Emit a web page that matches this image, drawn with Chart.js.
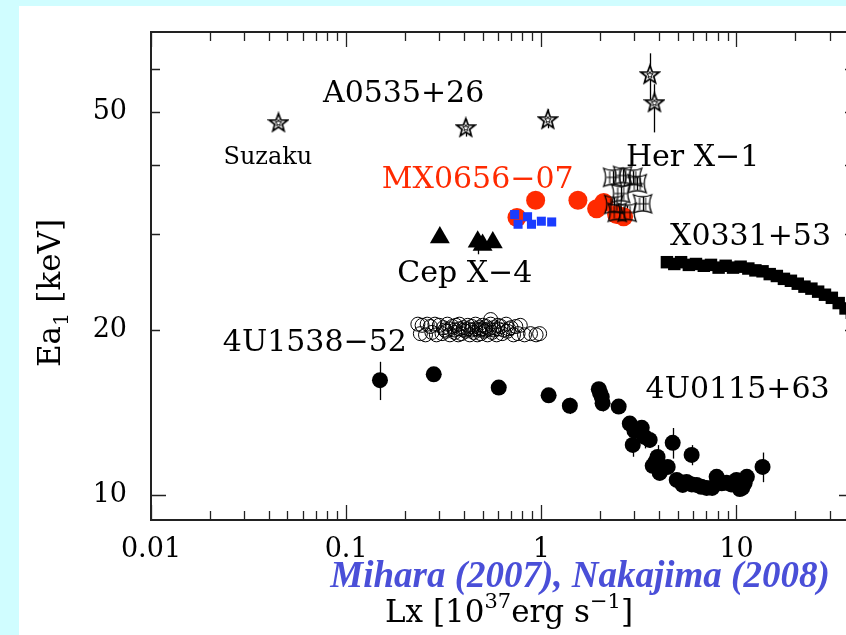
<!DOCTYPE html>
<html>
<head>
<meta charset="utf-8">
<script src="https://cdn.jsdelivr.net/npm/chart.js@4/dist/chart.umd.min.js"></script>
<style>
  html, body { margin: 0; padding: 0; width: 846px; height: 635px; overflow: hidden; background: #d0fdff; }
  #panel { position: absolute; left: 19px; top: 6px; right: 0; bottom: 0; background: #ffffff; }
  #box { position: absolute; left: 0; top: 0; width: 880px; height: 635px; }
</style>
</head>
<body>
<div id="panel"></div>
<div id="box"><canvas id="c" width="880" height="635"></canvas></div>
<script>
// Cyclotron resonance energy Ea1 [keV] versus X-ray luminosity Lx [1e37 erg/s]

// A0535+26 (Suzaku point first)
const a0535Lx = [0.045, 0.41, 1.08, 3.6, 3.8];
const a0535E  = [47.9, 46.9, 48.5, 58.6, 52.1];
const a0535Lo = [47.9, 45.1, 46.7, 52.7, 45.9];
const a0535Hi = [47.9, 48.5, 50.6, 64.0, 56.2];

// MX0656-07
const mxLx = [0.75, 0.935, 1.54, 1.92, 2.09, 2.43, 2.64];
const mxE  = [32.1, 34.5, 34.5, 33.3, 34.2, 32.5, 32.2];
const mxBlueLx = [0.73, 0.76, 0.85, 0.89, 1.0, 1.13];
const mxBlueE  = [32.5, 31.2, 32.2, 31.2, 31.6, 31.5];

// Her X-1
const herLx = [2.32, 2.61, 2.94, 3.1, 2.35, 2.45, 2.75, 3.3, 2.55];
const herE  = [38.0, 38.3, 38.0, 37.0, 33.9, 32.8, 32.8, 34.0, 35.5];
const herErrE = [1.0, 1.0, 1.0, 1.0, 1.0, 0.9, 0.9, 1.0, 1.0];

// Cep X-4
const cepLx = [0.302, 0.472, 0.50, 0.564];
const cepE  = [29.5, 29.0, 28.6, 28.9];
const cepErr = [0, 1.5, 0, 0];

// X0331+53
const x0331Lx = [4.4, 4.8, 5.2, 5.7, 6.2, 6.8, 7.4, 8.1, 8.8, 9.6, 10.5, 11.5, 12.5, 13.6,
                 14.8, 16.1, 17.5, 19.0, 20.6, 22.3, 24.2, 26.2, 28.4, 30.8, 33.4, 36.2, 39.0];
const x0331E  = [26.6, 26.4, 26.6, 26.3, 26.4, 26.2, 26.3, 26.0, 26.2, 26.0, 26.1, 25.9, 25.7, 25.6,
                 25.3, 25.1, 24.8, 24.6, 24.3, 24.0, 23.8, 23.5, 23.2, 22.9, 22.4, 21.9, 21.5];

// 4U1538-52
const u1538Lx = [0.233, 0.245, 0.26, 0.27, 0.285, 0.30, 0.315, 0.33, 0.35, 0.365, 0.38, 0.40, 0.42,
                 0.44, 0.46, 0.48, 0.50, 0.52, 0.55, 0.57, 0.60, 0.62, 0.66, 0.70, 0.74, 0.78,
                 0.24, 0.255, 0.275, 0.29, 0.31, 0.325, 0.34, 0.36, 0.375, 0.39, 0.41, 0.43, 0.45,
                 0.47, 0.49, 0.51, 0.53, 0.56, 0.59, 0.63, 0.67, 0.72, 0.76, 0.82, 0.88, 0.94, 0.98, 0.55,
                 0.32, 0.34, 0.36, 0.38, 0.40, 0.42, 0.44, 0.46, 0.48, 0.50, 0.52, 0.54, 0.57, 0.60, 0.64, 0.68];
const u1538E  = [20.5, 20.4, 20.5, 20.3, 20.5, 20.4, 20.2, 20.5, 20.3, 20.4, 20.5, 20.2, 20.4,
                 20.3, 20.5, 20.2, 20.4, 20.3, 20.5, 20.2, 20.4, 20.3, 20.5, 20.2, 20.3, 20.4,
                 19.7, 19.6, 19.8, 19.6, 19.7, 19.9, 19.6, 19.8, 19.6, 19.7, 19.9, 19.6, 19.8,
                 19.6, 19.7, 19.9, 19.6, 19.8, 19.6, 19.7, 19.9, 19.6, 19.7, 19.6, 19.7, 19.6, 19.7, 20.9,
                 20.0, 20.1, 20.0, 20.1, 20.0, 20.1, 20.0, 20.1, 20.0, 20.1, 20.0, 20.1, 20.0, 20.1, 20.0, 20.1];

// 4U0115+63
const u0115Lx = [0.149, 0.281, 0.605, 1.09, 1.40, 1.97, 2.00, 2.04, 2.06, 2.49, 2.84, 3.0, 3.27, 3.38,
                 2.94, 3.59, 4.71, 5.89, 3.94, 3.72, 3.85, 4.04, 4.44, 4.94, 5.30, 5.55, 5.9, 6.25,
                 6.6, 7.03, 7.5, 7.91, 8.4, 8.90, 9.4, 10.0, 10.4, 10.7, 11.0, 11.3, 13.6];
const u0115E  = [16.2, 16.6, 15.7, 15.2, 14.55, 15.6, 15.35, 15.1, 14.7, 14.5, 13.5, 13.1, 13.26, 12.76,
                 12.34, 12.6, 12.45, 11.83, 11.73, 11.3, 11.5, 10.97, 11.25, 10.65, 10.43, 10.56, 10.45, 10.43,
                 10.35, 10.3, 10.3, 10.79, 10.5, 10.52, 10.45, 10.65, 10.25, 10.3, 10.5, 10.79, 11.25];
const u0115Err = [1.3, 0.5, 0, 0, 0.5, 0, 0.3, 0.3, 0.5, 0.3, 0.4, 0.4, 0.4, 0.6,
                  0.6, 0.4, 0.8, 0.5, 0.6, 0.4, 0.4, 0.3, 0.3, 0.2, 0.2, 0.2, 0.2, 0.2,
                  0.2, 0.2, 0.2, 0.3, 0.2, 0.3, 0.2, 0.3, 0.2, 0.2, 0.2, 0.3, 0.7];

// Axis ticks
const xTickValues = [0.01, 0.02, 0.03, 0.04, 0.05, 0.06, 0.07, 0.08, 0.09,
                     0.1, 0.2, 0.3, 0.4, 0.5, 0.6, 0.7, 0.8, 0.9,
                     1, 2, 3, 4, 5, 6, 7, 8, 9, 10, 20, 30, 40];
const xMajor = [0.01, 0.1, 1, 10];
const xMajorLabels = ['0.01', '0.1', '1', '10'];
const yTickValues = [10, 20, 30, 40, 50, 60];
const yMajor = [10];
const yLabelled = [10, 20, 50];
const yLabels = ['10', '20', '50'];

// Source names and where they sit (data coordinates)
const sourceNames = ['A0535+26', 'Suzaku', 'MX0656\u221207', 'Her X\u22121', 'X0331+53', 'Cep X\u22124', '4U1538\u221252', '4U0115+63'];
const sourceColors = ['#000', '#000', '#ff2a00', '#000', '#000', '#000', '#000', '#000'];
const labelPos = [
  [0.197, 53.8], [0.0397, 41.3], [0.472, 37.5], [5.96, 41.1],
  [11.8, 29.6], [0.405, 25.25], [0.0691, 18.96], [10.13, 15.56]
];
const labelSize = [30, 24, 30, 30, 30, 30, 30, 30];

const SERIF = '"DejaVu Serif", serif';

function pts(xs, ys) { return xs.map((v, i) => ({ x: v, y: ys[i] })); }

function makeStar() {
  const c = document.createElement('canvas');
  c.width = 22; c.height = 22;
  const g = c.getContext('2d');
  function star(R, r) {
    g.beginPath();
    for (let i = 0; i < 10; i++) {
      const rad = i % 2 ? r : R;
      const ang = -Math.PI / 2 + i * Math.PI / 5;
      g.lineTo(11 + rad * Math.cos(ang), 11.8 + rad * Math.sin(ang));
    }
    g.closePath();
  }
  star(9.5, 4.0);
  g.fillStyle = '#fff'; g.fill();
  g.strokeStyle = '#000'; g.lineWidth = 1.7; g.stroke();
  star(3.4, 1.5);
  g.lineWidth = 1.0; g.stroke();
  return c;
}

function makeConcaveSquare() {
  const s = 22;
  const c = document.createElement('canvas');
  c.width = s; c.height = s;
  const g = c.getContext('2d');
  const m = 2, e = s - 2, k = 4;
  g.beginPath();
  g.moveTo(m, m);
  g.quadraticCurveTo(s / 2, m + k, e, m);
  g.quadraticCurveTo(e - k, s / 2, e, e);
  g.quadraticCurveTo(s / 2, e - k, m, e);
  g.quadraticCurveTo(m + k, s / 2, m, m);
  g.closePath();
  g.strokeStyle = '#000'; g.lineWidth = 1.3; g.stroke();
  // inner cross lines
  g.beginPath();
  g.moveTo(s / 2 - 3, m + 3); g.lineTo(s / 2 - 3, e - 3);
  g.moveTo(s / 2 + 3, m + 3); g.lineTo(s / 2 + 3, e - 3);
  g.moveTo(m + 3, s / 2); g.lineTo(e - 3, s / 2);
  g.lineWidth = 1; g.stroke();
  return c;
}

const starImg = makeStar();
const herImg = makeConcaveSquare();

// Frame with inward ticks on all four sides
const framePlugin = {
  id: 'frame',
  beforeDatasetsDraw(chart) {
    const { ctx, chartArea: a, scales: { x, y } } = chart;
    ctx.save();
    ctx.strokeStyle = '#222';
    ctx.lineWidth = 2;
    ctx.strokeRect(a.left, a.top, a.right - a.left, a.bottom - a.top);
    ctx.lineWidth = 1.3;
    ctx.beginPath();
    xTickValues.forEach(v => {
      const px = Math.round(x.getPixelForValue(v)) + 0.5;
      const L = xMajor.includes(v) ? 15 : 9;
      ctx.moveTo(px, a.bottom); ctx.lineTo(px, a.bottom - L);
      ctx.moveTo(px, a.top); ctx.lineTo(px, a.top + L);
    });
    yTickValues.forEach(v => {
      const py = Math.round(y.getPixelForValue(v)) + 0.5;
      const L = yMajor.includes(v) ? 15 : 9;
      ctx.moveTo(a.left, py); ctx.lineTo(a.left + L, py);
      ctx.moveTo(a.right, py); ctx.lineTo(a.right - L, py);
    });
    ctx.stroke();
    ctx.restore();
  }
};

// Vertical error bars taken from each dataset's errLo / errHi arrays
const errorBarPlugin = {
  id: 'errbars',
  beforeDatasetsDraw(chart) {
    const { ctx, scales: { x, y } } = chart;
    ctx.save();
    ctx.strokeStyle = '#000';
    ctx.lineWidth = 1.3;
    chart.data.datasets.forEach(ds => {
      if (!ds.errLo) return;
      ds.data.forEach((p, i) => {
        const lo = ds.errLo[i], hi = ds.errHi[i];
        if (lo === hi) return;
        const px = Math.round(x.getPixelForValue(p.x)) + 0.5;
        ctx.beginPath();
        ctx.moveTo(px, y.getPixelForValue(lo));
        ctx.lineTo(px, y.getPixelForValue(hi));
        ctx.stroke();
      });
    });
    ctx.restore();
  }
};

const textPlugin = {
  id: 'texts',
  afterDatasetsDraw(chart) {
    const { ctx, scales: { x, y } } = chart;
    ctx.save();
    ctx.textAlign = 'center';
    ctx.textBaseline = 'middle';
    sourceNames.forEach((t, i) => {
      ctx.font = labelSize[i] + 'px ' + SERIF;
      ctx.fillStyle = sourceColors[i];
      ctx.fillText(t, x.getPixelForValue(labelPos[i][0]), y.getPixelForValue(labelPos[i][1]));
    });
    ctx.restore();
  },
  afterDraw(chart) {
    const ctx = chart.ctx;
    function rich(parts, cx, base) {
      let total = 0;
      parts.forEach(p => { ctx.font = p.s + 'px ' + SERIF; p.w = ctx.measureText(p.t).width; total += p.w; });
      let px = cx - total / 2;
      parts.forEach(p => { ctx.font = p.s + 'px ' + SERIF; ctx.fillText(p.t, px, base + p.dy); px += p.w; });
    }
    ctx.save();
    ctx.fillStyle = '#000';
    ctx.textBaseline = 'alphabetic';
    ctx.textAlign = 'left';
    rich([
      { t: 'Lx [10', s: 31, dy: 0 },
      { t: '37', s: 21, dy: -14 },
      { t: 'erg s', s: 31, dy: 0 },
      { t: '\u22121', s: 21, dy: -14 },
      { t: ']', s: 31, dy: 0 }
    ], 509, 622);
    ctx.save();
    ctx.translate(60, 293);
    ctx.rotate(-Math.PI / 2);
    rich([
      { t: 'Ea', s: 31, dy: 0 },
      { t: '1', s: 21, dy: 8 },
      { t: ' [keV]', s: 31, dy: 0 }
    ], 0, 0);
    ctx.restore();
    ctx.font = 'italic bold 37px "Liberation Serif", serif';
    ctx.fillStyle = '#4a4fd8';
    ctx.textAlign = 'center';
    ctx.textBaseline = 'middle';
    ctx.fillText('Mihara (2007), Nakajima (2008)', 580, 577);
    ctx.restore();
  }
};

new Chart(document.getElementById('c'), {
  type: 'scatter',
  data: {
    datasets: [
      { label: 'A0535+26', data: pts(a0535Lx, a0535E), errLo: a0535Lo, errHi: a0535Hi,
        pointStyle: starImg, order: 0 },
      { label: 'Her X-1', data: pts(herLx, herE),
        errLo: herE.map((v, i) => v - herErrE[i]), errHi: herE.map((v, i) => v + herErrE[i]),
        pointStyle: herImg, order: 1 },
      { label: 'MX0656-07 blue', data: pts(mxBlueLx, mxBlueE), pointStyle: 'rect', pointRadius: 6.4,
        backgroundColor: '#1a3cff', borderColor: '#1a3cff', borderWidth: 0, order: 2 },
      { label: 'MX0656-07', data: pts(mxLx, mxE), pointStyle: 'circle', pointRadius: 9.5,
        backgroundColor: '#ff2a00', borderColor: '#ff2a00', borderWidth: 0, order: 3 },
      { label: 'Cep X-4', data: pts(cepLx, cepE),
        errLo: cepE.map((v, i) => v - cepErr[i]), errHi: cepE.map((v, i) => v + cepErr[i] * 0.3),
        pointStyle: 'triangle', pointRadius: 11.5, backgroundColor: '#000', borderColor: '#000', borderWidth: 0, order: 4 },
      { label: 'X0331+53', data: pts(x0331Lx, x0331E), pointStyle: 'rect', pointRadius: 8.8,
        backgroundColor: '#000', borderColor: '#000', borderWidth: 0, order: 5 },
      { label: '4U0115+63', data: pts(u0115Lx, u0115E),
        errLo: u0115E.map((v, i) => v - u0115Err[i]), errHi: u0115E.map((v, i) => v + u0115Err[i]),
        pointStyle: 'circle', pointRadius: 8, backgroundColor: '#000', borderColor: '#000', borderWidth: 0, order: 6 },
      { label: '4U1538-52', data: pts(u1538Lx, u1538E), pointStyle: 'circle', pointRadius: 7,
        backgroundColor: 'rgba(0,0,0,0)', borderColor: '#000', borderWidth: 1, order: 7 }
    ]
  },
  options: {
    responsive: false,
    animation: false,
    events: [],
    layout: { padding: { left: 0, top: 32, right: 26, bottom: 0 } },
    plugins: { legend: { display: false }, tooltip: { enabled: false } },
    scales: {
      x: {
        type: 'logarithmic', min: 0.01, max: 40, position: 'bottom',
        grid: { display: false, drawTicks: false },
        border: { display: false },
        afterBuildTicks: s => { s.ticks = xTickValues.map(v => ({ value: v })); },
        afterFit: s => { s.height = 115; s.paddingLeft = 0; s.paddingRight = 0; },
        ticks: {
          autoSkip: false, maxRotation: 0, padding: 14, color: '#000',
          font: { family: SERIF, size: 27 },
          callback: v => { const i = xMajor.indexOf(v); return i >= 0 ? xMajorLabels[i] : ''; }
        }
      },
      y: {
        type: 'logarithmic', min: 9, max: 70,
        grid: { display: false, drawTicks: false },
        border: { display: false },
        afterBuildTicks: s => { s.ticks = yTickValues.map(v => ({ value: v })); },
        afterFit: s => { s.width = 151; s.paddingTop = 0; s.paddingBottom = 0; },
        ticks: {
          autoSkip: false, padding: 24, color: '#000',
          font: { family: SERIF, size: 27 },
          callback: v => { const i = yLabelled.indexOf(v); return i >= 0 ? yLabels[i] : ''; }
        }
      }
    }
  },
  plugins: [framePlugin, errorBarPlugin, textPlugin]
});
</script>
</body>
</html>
